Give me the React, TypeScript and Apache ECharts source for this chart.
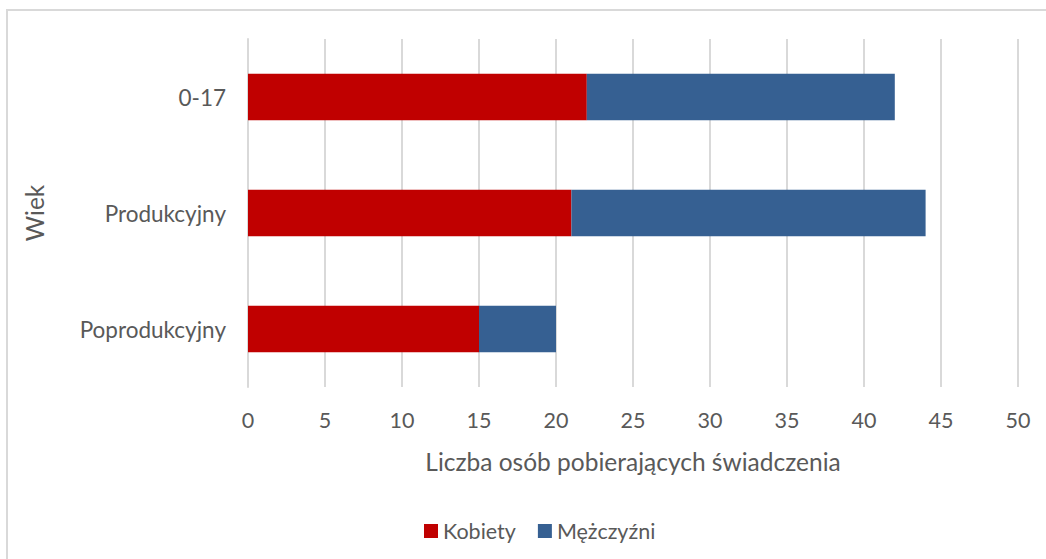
import React, { useEffect, useRef } from "react";
import * as echarts from "echarts";

const categories = ["Poprodukcyjny", "Produkcyjny", "0-17"];
const kobiety = [15, 21, 22];
const mezczyzni = [5, 23, 20];
const FONT = "Lato, 'Open Sans', sans-serif";
const TEXT = "#595959";

export default function App() {
  const ref = useRef<HTMLDivElement>(null);
  useEffect(() => {
    if (!ref.current) return;
    const chart = echarts.init(ref.current, null, { renderer: "svg" });
    chart.setOption({
      animation: false,
      backgroundColor: "#ffffff",
      textStyle: { fontFamily: FONT },
      graphic: [
        {
          type: "rect",
          shape: { x: 7, y: 10, width: 1100, height: 600 },
          style: { fill: "none", stroke: "#D9D9D9", lineWidth: 2 },
          silent: true,
        },
      ],
      grid: { left: 248, right: 28, top: 39, bottom: 172, containLabel: false },
      xAxis: {
        type: "value",
        min: 0,
        max: 50,
        interval: 5,
        name: "Liczba osób pobierających świadczenia",
        nameLocation: "middle",
        nameGap: 62,
        nameTextStyle: { fontSize: 24.5, color: TEXT, fontFamily: FONT },
        axisLine: { show: false },
        axisTick: { show: false },
        axisLabel: { fontSize: 21.5, color: TEXT, margin: 22, fontFamily: FONT },
        splitLine: { show: true, lineStyle: { color: "#D9D9D9", width: 2 } },
      },
      yAxis: {
        type: "category",
        data: categories,
        name: "Wiek",
        nameLocation: "middle",
        nameGap: 201,
        nameRotate: 90,
        nameTextStyle: { fontSize: 24.5, color: TEXT, fontFamily: FONT },
        axisLine: { show: true, lineStyle: { color: "#D9D9D9", width: 2 } },
        axisTick: { show: false },
        axisLabel: { fontSize: 22.5, color: TEXT, margin: 22, fontFamily: FONT },
      },
      legend: {
        bottom: 12,
        left: 419,
        itemWidth: 14,
        itemHeight: 14,
        itemGap: 22,
        icon: "rect",
        textStyle: { fontSize: 21.5, color: TEXT, fontFamily: FONT },
        data: ["Kobiety", "Mężczyźni"],
      },
      series: [
        {
          name: "Kobiety",
          type: "bar",
          stack: "total",
          data: kobiety,
          barCategoryGap: "60%",
          itemStyle: { color: "#C00000" },
        },
        {
          name: "Mężczyźni",
          type: "bar",
          stack: "total",
          data: mezczyzni,
          barCategoryGap: "60%",
          itemStyle: { color: "#366092" },
        },
      ],
    });
    return () => chart.dispose();
  }, []);
  return (
    <div
      ref={ref}
      style={{ position: "fixed", left: 0, top: 0, width: 1046, height: 559 }}
    />
  );
}
